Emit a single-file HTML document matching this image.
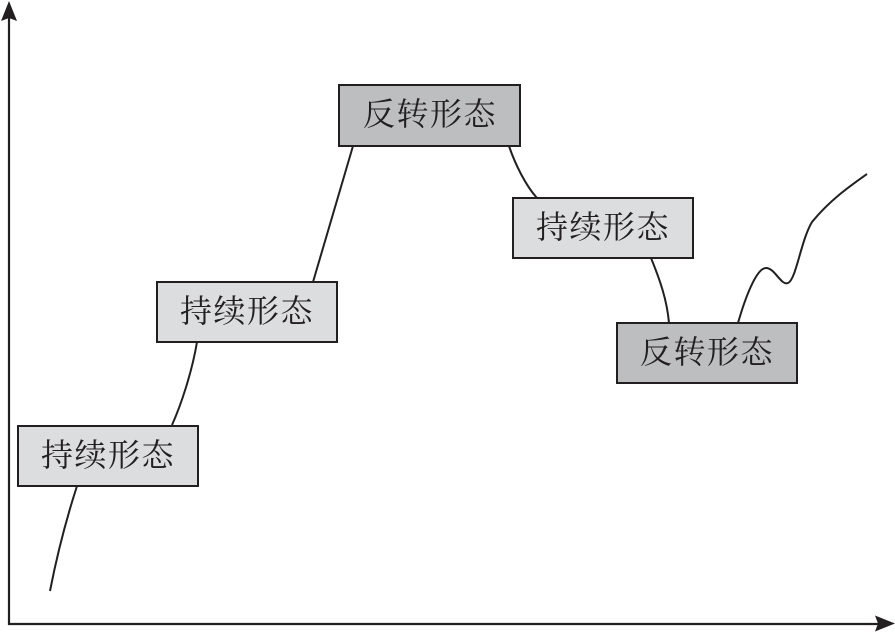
<!DOCTYPE html>
<html>
<head>
<meta charset="utf-8">
<style>
html,body{margin:0;padding:0;background:#fff;}
svg{display:block;}
text{font-family:"Liberation Serif","Noto Serif CJK SC","Noto Sans CJK SC",serif;font-size:32px;fill:#231f20;}
</style>
</head>
<body>
<svg width="895" height="633" viewBox="0 0 895 633" xmlns="http://www.w3.org/2000/svg">
  <!-- axes -->
  <line x1="9" y1="625" x2="9" y2="16" stroke="#231f20" stroke-width="2.2"/>
  <line x1="8" y1="624" x2="880" y2="624" stroke="#231f20" stroke-width="2.2"/>
  <polygon points="9,1 17,21 9,18 1,21" fill="#231f20"/>
  <polygon points="895,623.5 875,615.5 878,623.5 875,631.5" fill="#231f20"/>

  <!-- connector curves -->
  <g fill="none" stroke="#231f20" stroke-width="2">
    <path d="M50,591 C57,555 66,520 77,486"/>
    <path d="M172,425 C181,405 192,372 197,342"/>
    <path d="M313,282 L353,146"/>
    <path d="M509,146 C515,164 526,186 537,198"/>
    <path d="M651,258 C660,280 667,300 669,323"/>
    <path d="M738,323 C746,295 757,268 766,268 C775,268 781,286 788,283 C796,280 801,240 812,222 C830,200 850,186 867,174"/>
  </g>

  <!-- boxes -->
  <g stroke="#231f20" stroke-width="2">
    <rect x="18" y="426" width="180" height="60" fill="#dcdddf"/>
    <rect x="157" y="282" width="180" height="60" fill="#dcdddf"/>
    <rect x="339" y="85" width="181" height="61" fill="#bdbec0"/>
    <rect x="513" y="198" width="180" height="60" fill="#dcdddf"/>
    <rect x="617" y="323" width="180" height="60" fill="#bdbec0"/>
  </g>

  <!-- labels -->
  <text x="108" y="455" text-anchor="middle" dominant-baseline="central" letter-spacing="1.5">持续形态</text>
  <text x="247" y="311" text-anchor="middle" dominant-baseline="central" letter-spacing="1.5">持续形态</text>
  <text x="430" y="114" text-anchor="middle" dominant-baseline="central" letter-spacing="1.5">反转形态</text>
  <text x="603" y="227" text-anchor="middle" dominant-baseline="central" letter-spacing="1.5">持续形态</text>
  <text x="707" y="352" text-anchor="middle" dominant-baseline="central" letter-spacing="1.5">反转形态</text>
</svg>
</body>
</html>
